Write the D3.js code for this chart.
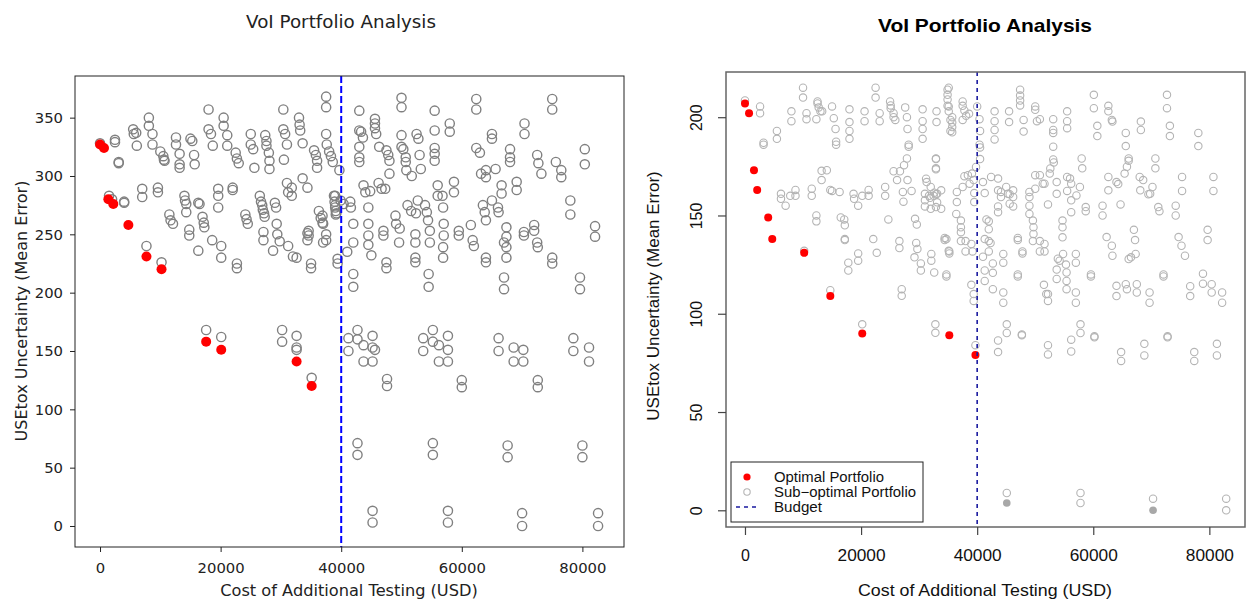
<!DOCTYPE html>
<html>
<head>
<meta charset="utf-8">
<script src="https://cdn.jsdelivr.net/npm/d3@7"></script>
<style>
  body { margin: 0; background: #fff; }
  svg { display: block; }
</style>
</head>
<body>
<div id="chart"></div>
<script>
var xTicks = [0, 20000, 40000, 60000, 80000];
var yTicksLeft = [0, 50, 100, 150, 200, 250, 300, 350];
var yTicksRight = [0, 50, 100, 150, 200];
var budget = 40000;
var titleText = 'VoI Portfolio Analysis';
var xLabel = 'Cost of Additional Testing (USD)';
var yLabel = 'USEtox Uncertainty (Mean Error)';
var legendLabels = ['Optimal Portfolio', 'Sub\u2212optimal Portfolio', 'Budget'];

// left panel (python version)
var leftOptimal = [[0,327],[660,324],[1380,280],[2200,276],[4700,258],[7700,231],[10200,220],[17600,158],[20100,151],[32600,141],[35100,120]];
var leftSub = [
  [0,328],[2480,331],[2480,329],[3100,312],[3100,311],[1500,283],[2000,280],[4000,278],[4000,277],
  [5500,340],[5600,336],[6000,337],[6100,326],[8100,350],[8100,343],[8700,336],[8700,327],
  [10000,321],[10500,317],[10600,314],[10700,313],[12600,333],[12600,327],[13200,319],[13200,310],[13200,307],
  [15000,332],[15300,330],[15600,318],[15700,310],[18000,357],[18000,340],[18400,336],[18700,326],
  [20500,350],[20500,343],[21100,335],[21100,326],[22500,320],[22700,315],[23000,311],
  [25000,336],[25000,327],[25400,323],[25600,307],[27400,335],[27600,330],[27600,326],[28000,320],[28100,313],[28100,306],
  [30400,357],[30400,340],[30700,336],[31000,327],[30500,314],[33000,350],[33100,344],[33200,339],[33600,328],
  [35500,322],[35800,318],[36000,313],[36000,307],
  [37500,368],[37500,359],[37500,336],[37600,327],[38000,321],[38300,317],[38600,312],[39700,305],
  [7000,289],[7000,282],[9600,290],[9600,286],[11500,267],[11700,262],[12100,259],
  [14000,283],[14100,279],[14300,276],[14300,269],[16300,277],[16500,276],[17000,265],[17200,260],[17300,256],
  [19600,289],[19600,283],[19600,273],[22000,290],[22000,288],[24100,267],[24300,263],[24500,259],
  [26500,283],[26700,278],[26900,275],[27000,271],[27200,268],[27300,265],
  [29000,277],[29200,273],[29300,259],[29400,250],[31000,294],[31200,286],[31800,290],[31800,283],
  [33600,298],[34400,290],[36300,270],[36600,264],[36900,260],
  [38800,283],[38900,278],[39000,275],[39100,270],[39100,267],
  [14800,254],[14800,249],[16300,236],[18600,245],[20100,240],[20100,230],[22700,225],[22700,221],
  [27100,252],[27100,245],[28700,236],[29800,244],[31200,240],[32000,231],[32600,230],
  [34400,251],[34400,245],[35000,225],[35000,221],[37500,250],[37500,245],[39400,229],[39400,225],
  [7700,240],[10200,226],
  [43000,356],[43000,339],[43300,338],[43600,333],[43000,325],[43000,316],[43000,312],
  [45600,349],[45600,345],[45600,341],[45800,336],[46300,325],[50000,367],[50000,359],
  [50000,335],[50000,325],[50300,323],[50700,316],[50700,312],[50800,305],[51700,300],
  [47500,322],[47800,318],[48000,313],[48000,302],[52500,336],[52800,332],[53000,318],[53200,306],
  [55500,356],[55500,339],[55500,324],[55500,319],[55500,313],[58000,345],[58000,338],
  [62400,366],[62400,357],[62400,324],[63000,320],[63200,302],[64000,305],[64000,299],
  [65000,336],[65000,332],[65600,306],[68000,323],[68000,316],[68000,312],[70400,345],[70400,336],
  [72500,318],[72700,311],[73200,302],[75000,366],[75000,357],[75600,312],[76500,305],[76500,299],
  [80400,323],[80400,310],
  [39000,283],[39000,273],[39200,268],[39900,279],[40400,276],[41500,278],[41600,273],
  [36900,266],[37000,259],[37000,243],[34600,253],[34600,249],
  [43700,292],[44000,286],[44800,287],[44500,273],[46200,294],[46700,289],[47300,289],
  [42000,259],[42000,243],[41000,235],[44500,259],[44500,249],[44500,241],[45000,232],
  [47000,253],[47000,249],[47500,226],[47500,221],[49000,266],[49100,259],[49700,255],[49600,243],
  [51000,275],[51600,270],[52400,268],[52700,279],[52300,250],[52300,243],[52300,230],[52300,226],
  [53900,275],[54200,269],[54400,262],[54700,253],[54700,243],
  [56000,292],[56000,283],[56800,283],[56900,273],[57000,259],[57000,249],[56900,239],[56900,230],
  [58700,295],[58700,286],[59500,253],[59500,249],[61500,258],[61800,245],[62000,240],
  [63500,275],[63800,269],[64000,262],[65000,279],[66000,273],[66100,269],[64000,230],[64000,226],
  [67000,243],[66600,292],[66600,285],[69100,295],[69100,288],
  [67400,256],[67400,248],[67400,239],[67400,230],
  [70300,252],[70300,249],[72000,258],[72000,253],[72500,243],[72600,239],
  [75000,230],[75000,225],[78000,279],[78000,267],[82100,257],[82100,248],
  [42000,216],[42000,205],[54500,216],[54500,205],[67000,213],[67000,203],[79600,213],[79600,203],
  [41200,161],[41200,150],[42700,168],[42700,160],[43700,155],[43700,141],[45200,163],[45200,153],[45200,141],[45600,151],
  [47600,126],[47600,120],
  [53600,161],[53600,150],[55200,168],[55200,158],[56200,155],[56200,141],[57700,163],[57700,151],[57700,141],
  [60000,125],[60000,119],
  [66100,161],[66100,150],[68600,153],[68600,141],[70200,151],[70200,141],[72600,125],[72600,119],
  [78500,161],[78500,150],[81100,153],[81100,141],
  [42700,71],[42700,61],[55200,71],[55200,61],[67600,69],[67600,59],[80000,69],[80000,59],
  [45200,13],[45200,3],[57700,13],[57700,3],[70000,11],[70000,0],[82600,11],[82600,0],
  [17600,168],[20100,162],[30200,168],[30200,158],[32600,163],[32600,153],[32600,151],[35100,127]
];

// right panel (R version)
var rightOptimal = [[0,207],[700,202],[1550,173],[2100,163],[4000,149],[4700,138],[10200,131],[14700,109],[20200,90],[35200,89],[39700,79]];
var rightSubFilled = [[45100,3.7],[70300,0]];
var rightSub = [
  [0,208.5],[2600,205.5],[2600,202],[3200,187],[3200,186],[5500,193],[5500,189],
  [8000,203],[8000,198],[10000,215],[10000,210],[10600,202],[10600,199],
  [12500,208],[12500,207],[12700,205],[13000,203],[13300,203],[12300,199],
  [15000,205.5],[15300,199.5],[15600,194],[15700,187.5],[15700,186],
  [18000,204],[18000,197.5],[18000,193],[18000,189],[20600,203],[20600,198],
  [22500,215],[22500,210],[23200,202],[23200,198],
  [25000,208],[25100,206],[25100,204.6],[25600,202],[25600,200],[25900,198.6],
  [27600,205],[27900,200],[28000,194],[28200,186],[28200,185],
  [30600,204],[30600,198],[30600,194],[30600,189],[33000,203],[33000,197.5],
  [35100,215],[35100,205.5],[35100,203],[35400,198.6],[35400,193],
  [6200,161],[6200,158.5],[7000,155],[7800,160],[8700,163],[8700,160],
  [11500,163.6],[11500,160],[12300,150],[12300,147],[13200,172.7],[13200,168],[14100,173],
  [14700,163],[15000,162.5],[16300,162],[16500,149],[17100,148],[17200,145],[17200,138],[17200,137.5],
  [18700,161],[18800,158.5],[19500,155],[20200,160],[21300,160],[21300,163],
  [17800,126],[17800,122],[19500,130.7],[19500,127],[22100,138],[22700,131],
  [24150,164.5],[24150,160],[24700,148],
  [25600,172.5],[26200,168],[26700,172.5],[27400,175.6],[27900,179],[28000,168],
  [27200,162],[27300,157],[28700,162.5],[26600,137],[26600,133.4],
  [29300,148.3],[29600,145.4],[29700,133],[29500,136],[29200,128.7],[30300,125.6],[30300,122],
  [27000,112.5],[27000,109.1],
  [31200,168.7],[31300,167],[31000,161],[31000,157.7],[31000,154.6],[31900,159],[32500,160],
  [33100,161],[33100,156.7],[33800,162.8],[33800,153.4],[32600,161.6],
  [32600,121],[32900,179],[32900,174],[32100,130.4],[32100,127],
  [34700,138],[34700,120],[34700,119],[35100,132],
  [34900,214],[34900,211.4],[34900,209],[34900,205.8],[35700,200],[35700,197.3],[35700,195],[35700,192.3],
  [37500,208],[37500,205.8],[37800,203.4],[37500,198.6],[38100,200.7],[38600,201.7],
  [40000,205.5],[40400,199],[40500,193],[40400,186],[40500,184.6],[40500,178.7],[39800,174.7],
  [43000,203],[43000,198],[43000,193.5],[43000,188.7],[45500,203],[45500,197.5],
  [47400,214],[47400,211],[47400,208.5],[47400,206],[48000,198.6],[48000,192.7],
  [50000,205.5],[50000,203.8],[50300,198],[50800,199],
  [53100,199],[53100,193.5],[53100,192],[53100,185],[55500,203],[55500,198],[55500,194.4],
  [60100,211.4],[60100,204.6],[62600,205.8],[62600,203],[63200,198.6],[63300,197.8],
  [60700,195.6],[60700,190.4],[65600,192],[65600,185.3],[68200,197.8],[68200,193.5],
  [72700,211.4],[72700,204.6],[73200,195.6],[73200,190.4],[78100,192],[78100,185.3],
  [32900,178.7],[32900,173.5],[32000,164.5],[31700,160],[32900,160.8],[32900,154.3],[32000,153.4],
  [36500,162],[36500,156.8],[36400,150.8],[37200,147.4],[37200,144],[37200,141.5],[37200,137],
  [37800,170],[38400,170.5],[39100,171.3],[39400,168],[37500,164.5],[38700,166.2],[39500,161.4],[39500,156.8],
  [34400,138.6],[34400,137.5],[35200,131.7],[35200,130.7],
  [38000,137],[38000,131.7],[39000,135.5],[39200,131.7],[39000,114.7],[39400,110],[39400,106.5],
  [41000,167],[41300,161.4],[42400,169.6],[43600,168.8],[43600,162.8],
  [41600,148],[42000,147],[42000,143],[42000,137],[42000,131.7],[42300,136],[41300,138],
  [41000,129],[41300,122],[41300,116.7],[42700,125.6],[42700,120.8],[42700,112.5],
  [44100,162],[44100,159.4],[45000,164.5],[45300,161],[45600,160.8],[46200,162.8],[46200,159.4],
  [43600,154.6],[43600,151.7],[46200,154.6],[45600,156],
  [44500,130.4],[44500,126],[44500,110.8],[44500,105.6],
  [47000,138.6],[47000,137.5],[47800,131.7],[47800,130.7],[47000,120],[47000,119],
  [49000,162],[49000,159.4],[49000,155],[49000,150.8],[49600,147.4],[49700,144],[49700,140.6],[49600,137],
  [50800,137],[51600,135.5],[50800,131.7],[51600,131.7],
  [50000,170.5],[50800,170.5],[50000,163.6],[51300,166.2],[51600,166.2],[52500,171.3],[52600,173.9],
  [53100,178.5],[53200,177],[52200,155.6],[53700,167],[53700,161],
  [51500,114.7],[51900,110],[52200,110],[52200,106.5],
  [53900,128],[54200,127],[54800,130.4],[55300,125],[55400,121],[55400,116.7],[55400,112.5],[53700,122.5],[53700,117.7],
  [54700,147.4],[54700,144],[54700,138.9],
  [55500,169.6],[56000,168.8],[56200,166.2],[55500,162.5],[56200,157.7],[56200,151.7],[57100,160.2],[57700,164.5],
  [57000,130.4],[57000,126],[57000,110.8],[57000,105.6],
  [58000,179],[58100,174],[58700,154.3],[58700,152.2],[59600,120],[59600,119],
  [61600,155],[61600,150],[62300,139],[63200,134.6],[63300,129.5],
  [62600,169.6],[62600,162.8],[64000,167],[64300,166],[64700,155.6],[64000,114.2],[64000,109],
  [65400,171.3],[65800,174.8],[66100,179],[66100,177.8],
  [65600,115],[65800,112.5],[66500,128.7],[66100,127.8],[67500,115],[67500,110.8],
  [67000,142.7],[67200,137.5],[67300,130.4],
  [68000,169.6],[68600,168],[68100,162.8],[69500,160.8],[69800,161],[70200,164.5],
  [69700,110.8],[69700,105.6],[70700,179],[70700,174],[71200,154.3],[71400,152.2],[72100,120],[72100,119],
  [74200,155],[74200,150],[74700,139],[75200,134.6],[75800,129.5],[75300,169.6],[75300,162.5],
  [76700,114],[76700,109],
  [78900,120.4],[78900,115.3],[80400,115],[80400,110.8],[82200,110.8],[82200,105.6],
  [79700,142.7],[79700,137.5],[80700,169.6],[80700,162.5],
  [32800,94.6],[32800,90.3],[20200,94.6],[39700,84],[14700,112],[10200,132],
  [43600,86.4],[43600,80.5],[45100,94.6],[45100,90.2],[47700,89.5],[47700,89],
  [52200,84],[52200,79.3],[56200,86.8],[56200,80.8],[57800,94.6],[57800,90.2],[60200,88],[60200,88.5],
  [64800,80.5],[64800,76],[68800,84.7],[68800,78.8],[72800,88],[72800,88.5],
  [77400,80.5],[77400,76],[81300,84.7],[81300,78.8],
  [45100,8.8],[57800,8.8],[57800,3.7],[70300,5.9],[82900,5.9],[82900,0]
];
var legendWidths = [110, 142, 48];

var svg = d3.select('#chart').append('svg')
  .attr('width', 1248)
  .attr('height', 602);

// ---------- left panel ----------
var xL = d3.scaleLinear().domain([-4150, 86900]).range([75, 624]);
var yL = d3.scaleLinear().domain([-18, 385.7]).range([547, 76]);
var mplFont = 'DejaVu Sans, sans-serif';

var left = svg.append('g');

left.selectAll('circle.sub')
  .data(leftSub)
  .enter()
  .append('circle')
    .attr('class', 'sub')
    .attr('cx', function (d) { return xL(d[0]); })
    .attr('cy', function (d) { return yL(d[1]); })
    .attr('r', 4.6)
    .attr('fill', 'none')
    .attr('stroke', '#808080')
    .attr('stroke-width', 1.4);

left.selectAll('circle.opt')
  .data(leftOptimal)
  .enter()
  .append('circle')
    .attr('class', 'opt')
    .attr('cx', function (d) { return xL(d[0]); })
    .attr('cy', function (d) { return yL(d[1]); })
    .attr('r', 5)
    .attr('fill', '#ff0000');

left.append('line')
  .attr('x1', xL(budget)).attr('x2', xL(budget))
  .attr('y1', 76).attr('y2', 547)
  .attr('stroke', '#0000ff')
  .attr('stroke-width', 2)
  .attr('stroke-dasharray', '7,3');

left.append('rect')
  .attr('x', 75).attr('y', 76)
  .attr('width', 549).attr('height', 471)
  .attr('fill', 'none')
  .attr('stroke', '#222')
  .attr('stroke-width', 1);

var lx = left.append('g')
  .attr('transform', 'translate(0,547)')
  .call(d3.axisBottom(xL).tickValues(xTicks).tickFormat(d3.format('d')).tickSize(5).tickPadding(10).tickSizeOuter(0));
var ly = left.append('g')
  .attr('transform', 'translate(75,0)')
  .call(d3.axisLeft(yL).tickValues(yTicksLeft).tickSize(5).tickPadding(7).tickSizeOuter(0));
[lx, ly].forEach(function (a) {
  a.select('.domain').remove();
  a.selectAll('line').attr('stroke', '#222');
  a.selectAll('text').attr('font-family', mplFont).attr('font-size', 14.8).attr('fill', '#222');
});

left.append('text')
  .attr('x', 341).attr('y', 28)
  .attr('text-anchor', 'middle')
  .attr('font-family', mplFont).attr('font-size', 18.3)
  .attr('fill', '#222')
  .text(titleText);

left.append('text')
  .attr('x', 349).attr('y', 596)
  .attr('text-anchor', 'middle')
  .attr('font-family', mplFont).attr('font-size', 16.2)
  .attr('fill', '#222')
  .text(xLabel);

left.append('text')
  .attr('transform', 'translate(27,311) rotate(-90)')
  .attr('text-anchor', 'middle')
  .attr('font-family', mplFont).attr('font-size', 16)
  .attr('fill', '#222')
  .text(yLabel);

// ---------- right panel ----------
var xR = d3.scaleLinear().domain([-3270, 86140]).range([726, 1245]);
var yR = d3.scaleLinear().domain([-8.5, 223]).range([527, 72]);
var rFont = 'Liberation Sans, Arial, sans-serif';

var right = svg.append('g');

right.selectAll('circle.sub')
  .data(rightSub)
  .enter()
  .append('circle')
    .attr('class', 'sub')
    .attr('cx', function (d) { return xR(d[0]); })
    .attr('cy', function (d) { return yR(d[1]); })
    .attr('r', 3.7)
    .attr('fill', 'none')
    .attr('stroke', '#b4b4b4')
    .attr('stroke-width', 1.1);

right.selectAll('circle.subf')
  .data(rightSubFilled)
  .enter()
  .append('circle')
    .attr('class', 'subf')
    .attr('cx', function (d) { return xR(d[0]); })
    .attr('cy', function (d) { return yR(d[1]); })
    .attr('r', 3.8)
    .attr('fill', '#a8a8a8');

right.selectAll('circle.opt')
  .data(rightOptimal)
  .enter()
  .append('circle')
    .attr('class', 'opt')
    .attr('cx', function (d) { return xR(d[0]); })
    .attr('cy', function (d) { return yR(d[1]); })
    .attr('r', 4)
    .attr('fill', '#ff0000');

right.append('line')
  .attr('x1', xR(budget)).attr('x2', xR(budget))
  .attr('y1', 72).attr('y2', 527)
  .attr('stroke', '#1a1aa0')
  .attr('stroke-width', 1.6)
  .attr('stroke-dasharray', '4,4');

right.append('rect')
  .attr('x', 726).attr('y', 72)
  .attr('width', 519).attr('height', 455)
  .attr('fill', 'none')
  .attr('stroke', '#666')
  .attr('stroke-width', 1.5);

var rx = right.append('g')
  .attr('transform', 'translate(0,527)')
  .call(d3.axisBottom(xR).tickValues(xTicks).tickFormat(d3.format('d')).tickSize(8).tickPadding(15).tickSizeOuter(0));
var ry = right.append('g')
  .attr('transform', 'translate(726,0)')
  .call(d3.axisLeft(yR).tickValues(yTicksRight).tickSize(8).tickSizeOuter(0));
[rx, ry].forEach(function (a) {
  a.select('.domain').remove();
  a.selectAll('line').attr('stroke', '#444').attr('stroke-width', 1.2);
  a.selectAll('text').attr('font-family', rFont).attr('font-size', 16).attr('fill', '#111');
});
rx.selectAll('text')
  .attr('textLength', 48)
  .attr('lengthAdjust', 'spacingAndGlyphs');
rx.selectAll('.tick').filter(function (d) { return d === 0; }).select('text').attr('textLength', null);
ry.selectAll('text')
  .attr('x', null).attr('dy', null).attr('y', 0)
  .attr('text-anchor', 'middle')
  .attr('transform', 'translate(-24,0) rotate(-90)');

right.append('text')
  .attr('x', 985).attr('y', 32)
  .attr('text-anchor', 'middle')
  .attr('font-family', rFont).attr('font-size', 18.5).attr('font-weight', 'bold')
  .attr('fill', '#000')
  .attr('textLength', 214).attr('lengthAdjust', 'spacingAndGlyphs')
  .text(titleText);

right.append('text')
  .attr('x', 985).attr('y', 596)
  .attr('text-anchor', 'middle')
  .attr('font-family', rFont).attr('font-size', 16.5)
  .attr('fill', '#111')
  .attr('textLength', 254).attr('lengthAdjust', 'spacingAndGlyphs')
  .text(xLabel);

right.append('text')
  .attr('transform', 'translate(659,296) rotate(-90)')
  .attr('text-anchor', 'middle')
  .attr('font-family', rFont).attr('font-size', 17)
  .attr('fill', '#111')
  .text(yLabel);

// legend
var legend = right.append('g').attr('transform', 'translate(731,462)');
legend.append('rect')
  .attr('width', 192).attr('height', 60)
  .attr('fill', '#fff')
  .attr('stroke', '#222')
  .attr('stroke-width', 1);
legend.append('circle').attr('cx', 16).attr('cy', 15).attr('r', 3.6).attr('fill', '#ff0000');
legend.append('circle').attr('cx', 16).attr('cy', 30).attr('r', 3.2)
  .attr('fill', 'none').attr('stroke', '#b4b4b4').attr('stroke-width', 1.1);
legend.append('line').attr('x1', 5).attr('x2', 27).attr('y1', 45).attr('y2', 45)
  .attr('stroke', '#1a1aa0').attr('stroke-width', 1.6).attr('stroke-dasharray', '4,4');
legend.selectAll('text.leg')
  .data(legendLabels)
  .enter()
  .append('text')
    .attr('class', 'leg')
    .attr('x', 43)
    .attr('y', function (d, i) { return 19.5 + i * 15; })
    .attr('font-family', rFont).attr('font-size', 14)
    .attr('fill', '#111')
    .attr('textLength', function (d, i) { return legendWidths[i]; })
    .attr('lengthAdjust', 'spacingAndGlyphs')
    .text(function (d) { return d; });
</script>
</body>
</html>
